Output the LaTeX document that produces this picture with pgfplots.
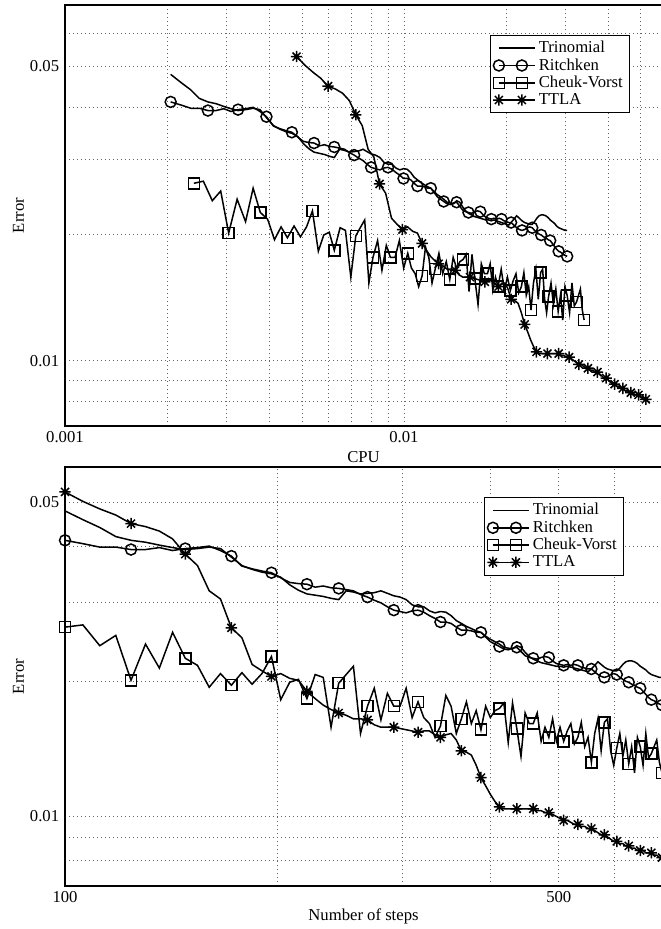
\documentclass[border=0pt]{standalone}
\usepackage{fontspec}
\setmainfont{Liberation Serif}
\usepackage{pgfplots}
\usepackage{pgfplotstable}
\pgfplotsset{compat=1.18}

\pgfdeclareplotmark{starx}{%
  \pgfpathmoveto{\pgfqpoint{-\pgfplotmarksize}{0pt}}\pgfpathlineto{\pgfqpoint{\pgfplotmarksize}{0pt}}%
  \pgfpathmoveto{\pgfqpoint{0pt}{-\pgfplotmarksize}}\pgfpathlineto{\pgfqpoint{0pt}{\pgfplotmarksize}}%
  \pgfpathmoveto{\pgfqpoint{-0.7071\pgfplotmarksize}{-0.7071\pgfplotmarksize}}\pgfpathlineto{\pgfqpoint{0.7071\pgfplotmarksize}{0.7071\pgfplotmarksize}}%
  \pgfpathmoveto{\pgfqpoint{-0.7071\pgfplotmarksize}{0.7071\pgfplotmarksize}}\pgfpathlineto{\pgfqpoint{0.7071\pgfplotmarksize}{-0.7071\pgfplotmarksize}}%
  \pgfusepathqstroke}

% n = number of steps; T,R,C,A = errors (Trinomial, Ritchken, Cheuk-Vorst, TTLA)
% cR = CPU of Trinomial/Ritchken, cC = CPU of Cheuk-Vorst, cA = CPU of TTLA
\pgfplotstableread{
n T R C A cR cC cA
100 0.0479 0.0412 0.0264 0.0528 0.00205 0.0024 0.00482
106 0.0458 0.0405 0.0267 0.0503 0.00220 0.00256 0.00511
112 0.0440 0.0398 0.0240 0.0484 0.00235 0.00272 0.00540
118 0.0420 0.0398 0.0253 0.0469 0.00249 0.00288 0.00568
124 0.0412 0.0393 0.0201 0.0449 0.00264 0.00304 0.00597
130 0.0408 0.0393 0.0242 0.0442 0.00279 0.00322 0.00628
136 0.0402 0.0397 0.0214 0.0432 0.00294 0.00341 0.00659
142 0.0397 0.0391 0.0257 0.0415 0.00309 0.00359 0.00690
148 0.0393 0.0395 0.0225 0.0384 0.00324 0.00377 0.00721
154 0.0395 0.0397 0.0217 0.0362 0.00341 0.00396 0.00753
160 0.0398 0.0400 0.0194 0.0318 0.00359 0.00415 0.00784
166 0.0395 0.0391 0.0208 0.0305 0.00376 0.00434 0.00815
172 0.0378 0.0380 0.0196 0.0263 0.00393 0.00453 0.00847
178 0.0362 0.0361 0.0209 0.0250 0.00412 0.00474 0.00883
184 0.0355 0.0356 0.0197 0.0218 0.00430 0.00495 0.00919
190 0.0350 0.0352 0.0208 0.0211 0.00449 0.00516 0.00954
196 0.0347 0.0349 0.0227 0.0205 0.00467 0.00537 0.0099
202 0.0341 0.0340 0.0182 0.0208 0.00486 0.00559 0.01025
208 0.0328 0.0332 0.0199 0.0203 0.00505 0.00580 0.01061
214 0.0319 0.0330 0.0202 0.0201 0.00524 0.00602 0.01096
220 0.0313 0.0329 0.0183 0.0190 0.00543 0.00623 0.01131
226 0.0311 0.0324 0.0207 0.0183 0.00563 0.00648 0.01165
232 0.0309 0.0326 0.0204 0.0177 0.00583 0.00672 0.01198
238 0.0306 0.0323 0.0158 0.0173 0.00603 0.00697 0.01232
244 0.0304 0.0322 0.0198 0.0170 0.00623 0.00721 0.01265
250 0.0318 0.0320 0.0207 0.0168 0.00646 0.00743 0.01303
256 0.0316 0.0318 0.0216 0.0165 0.00668 0.00766 0.01341
262 0.0313 0.0312 0.0153 0.0165 0.00691 0.00788 0.01379
268 0.0314 0.0308 0.0176 0.0164 0.00713 0.00810 0.01417
274 0.0315 0.0303 0.0193 0.0160 0.00735 0.00836 0.01454
280 0.0318 0.0299 0.0164 0.0158 0.00757 0.00861 0.01492
286 0.0314 0.0293 0.0188 0.0158 0.00778 0.00887 0.01529
292 0.0310 0.0288 0.0176 0.0158 0.00800 0.00912 0.01566
298 0.0308 0.0286 0.0176 0.0157 0.00824 0.00941 0.01608
304 0.0304 0.0284 0.0193 0.0156 0.00849 0.00969 0.01649
310 0.0296 0.0287 0.0166 0.0155 0.00873 0.00998 0.01691
316 0.0293 0.0288 0.0180 0.0154 0.00897 0.01026 0.01732
322 0.0293 0.0285 0.0166 0.0155 0.00922 0.01052 0.01774
328 0.0287 0.0280 0.0161 0.0155 0.00947 0.01079 0.01816
334 0.0284 0.0276 0.0150 0.0152 0.00972 0.01105 0.01858
340 0.0286 0.0271 0.0159 0.0150 0.00997 0.01131 0.0190
346 0.0285 0.0271 0.0186 0.0152 0.01022 0.01157 0.01943
352 0.0280 0.0269 0.0176 0.0153 0.01047 0.01184 0.01985
358 0.0273 0.0264 0.0153 0.0148 0.01071 0.01210 0.02028
364 0.0269 0.0260 0.0165 0.0140 0.01096 0.01236 0.0207
370 0.0265 0.0260 0.0180 0.0139 0.01122 0.01268 0.0212
376 0.0262 0.0259 0.0161 0.0137 0.01148 0.01301 0.0217
382 0.0259 0.0257 0.0172 0.0130 0.01174 0.01333 0.0222
388 0.0257 0.0257 0.0156 0.0122 0.0120 0.01365 0.0227
394 0.0252 0.0251 0.0176 0.0117 0.01228 0.01397 0.02318
400 0.0248 0.0245 0.0166 0.0112 0.01255 0.01430 0.02365
406 0.0245 0.0242 0.0172 0.0108 0.01283 0.01462 0.02413
412 0.0242 0.0239 0.0174 0.0105 0.0131 0.01494 0.0246
418 0.0238 0.0236 0.0179 0.0104 0.0134 0.01525 0.02508
424 0.0237 0.0235 0.0146 0.0104 0.0137 0.01556 0.02555
430 0.0236 0.0237 0.0179 0.0104 0.0140 0.01587 0.02603
436 0.0240 0.0238 0.0157 0.0104 0.0143 0.01618 0.0265
442 0.0238 0.0233 0.0136 0.0104 0.0146 0.01654 0.02703
448 0.0232 0.0228 0.0170 0.0104 0.0149 0.01691 0.02755
454 0.0227 0.0226 0.0161 0.0104 0.0152 0.01727 0.02808
460 0.0224 0.0225 0.0161 0.0104 0.0155 0.01763 0.0286
466 0.0222 0.0224 0.0170 0.0103 0.01583 0.01796 0.02913
472 0.0220 0.0226 0.0147 0.0103 0.01615 0.01829 0.02965
478 0.0219 0.0227 0.0158 0.0102 0.01648 0.01862 0.03018
484 0.0218 0.0226 0.0150 0.0102 0.0168 0.01895 0.0307
490 0.0217 0.0222 0.0165 0.0101 0.01713 0.01936 0.03123
496 0.0216 0.0219 0.0147 0.0100 0.01745 0.01978 0.03175
502 0.0216 0.0218 0.0158 0.0099 0.01778 0.02019 0.03228
508 0.0215 0.0217 0.0147 0.0098 0.0181 0.0206 0.0328
514 0.0216 0.0218 0.0155 0.0098 0.01843 0.0210 0.03333
520 0.0215 0.0217 0.0161 0.0097 0.01875 0.0214 0.03385
526 0.0214 0.0218 0.0145 0.0096 0.01908 0.0218 0.03438
532 0.0213 0.0217 0.0150 0.0096 0.0194 0.0222 0.0349
538 0.0212 0.0215 0.0162 0.0095 0.01973 0.02258 0.03548
544 0.0211 0.0214 0.0143 0.0095 0.02005 0.02295 0.03605
550 0.0210 0.0213 0.0150 0.0094 0.02038 0.02333 0.03663
556 0.0213 0.0213 0.0132 0.0094 0.0207 0.0237 0.0372
562 0.0217 0.0210 0.0153 0.0093 0.0211 0.0241 0.03778
568 0.0221 0.0207 0.0165 0.0092 0.0215 0.0245 0.03835
574 0.0218 0.0205 0.0140 0.0091 0.0219 0.0249 0.03893
580 0.0215 0.0204 0.0162 0.0091 0.0223 0.0253 0.0395
586 0.0213 0.0205 0.0165 0.0090 0.0227 0.02565 0.04008
592 0.0212 0.0207 0.0140 0.0089 0.0231 0.0260 0.04065
598 0.0211 0.0208 0.0130 0.0088 0.0235 0.02635 0.04123
604 0.0211 0.0207 0.0142 0.0088 0.0239 0.0267 0.0418
610 0.0214 0.0204 0.0153 0.0087 0.02428 0.02715 0.0424
616 0.0218 0.0202 0.0136 0.0087 0.02465 0.0276 0.0430
622 0.0221 0.0200 0.0148 0.0086 0.02503 0.02805 0.0436
628 0.0222 0.0199 0.0131 0.0086 0.0254 0.0285 0.0442
634 0.0222 0.0197 0.0143 0.0085 0.0258 0.02895 0.04483
640 0.0221 0.0196 0.0125 0.0085 0.0262 0.0294 0.04545
646 0.0219 0.0194 0.0150 0.0084 0.0266 0.02985 0.04608
652 0.0216 0.0193 0.0143 0.0084 0.0270 0.0303 0.0467
658 0.0214 0.0190 0.0130 0.0084 0.0274 0.0308 0.04733
664 0.0212 0.0187 0.0153 0.0083 0.0278 0.0313 0.04795
670 0.0209 0.0184 0.0135 0.0083 0.0282 0.0318 0.04858
676 0.0207 0.0182 0.0138 0.0083 0.0286 0.0323 0.0492
682 0.0206 0.0181 0.0143 0.0082 0.02903 0.03273 0.04983
688 0.0205 0.0179 0.0148 0.0082 0.02945 0.03315 0.05045
694 0.0204 0.0178 0.0132 0.0081 0.02988 0.03358 0.05108
700 0.0204 0.0177 0.0125 0.0081 0.0303 0.0340 0.0517
}\data

\tikzset{
  tri/.style={black, line width=0.9pt},
  rit/.style={black, line width=0.9pt, mark=o, mark size=3.3pt, mark repeat=4, mark options={solid}},
  cv/.style={black, line width=0.9pt, mark=square, mark size=3.3pt, mark repeat=4, mark options={solid}},
  ttla/.style={black, line width=0.9pt, mark=starx, mark size=3.4pt, mark repeat=4, mark options={solid}},
}

\pgfplotsset{
  every axis/.append style={
    scale only axis, clip=false,
    axis line style={line width=1pt},
    grid=both,
    major grid style={dotted, line width=0.5pt, black!60},
    minor grid style={dotted, line width=0.5pt, black!60},
    major tick length=0pt, minor tick length=0pt,
    legend cell align=left,
    legend style={anchor=north east, draw=black, fill=white, inner xsep=2pt, inner ysep=1.5pt, row sep=-2pt},
  },
  every axis y label/.style={at={(axis description cs:-0.078,0.5)}, rotate=90, anchor=center},
  every axis x label/.style={at={(axis description cs:0.5,0)}, anchor=center, yshift=-18.5pt},
}

\begin{document}
\begin{tikzpicture}
\begin{loglogaxis}[at={(39pt,301.8pt)}, anchor=south west,
  width=358.2pt, height=252.6pt,
  xmin=0.001, xmax=0.0577, ymin=0.007, ymax=0.07,
  xtick={0.001,0.01}, xticklabels={0.001,0.01},
  minor xtick={0.002,0.003,0.004,0.005,0.006,0.007,0.008,0.009,0.02,0.03,0.04,0.05},
  ytick={0.01,0.05}, yticklabels={0.01,0.05},
  minor ytick={0.008,0.009,0.02,0.03,0.04,0.06},
  xlabel={CPU}, ylabel={Error},
  legend image code/.code={\draw[#1, mark repeat=1, mark phase=1] plot coordinates {(0pt,0pt) (13.8pt,0pt)}; \path (0pt,0pt) -- (21.5pt,0pt);},
  legend style={at={(0.946,0.929)}}]
\addplot[tri] table[x=cR, y=T] {\data};
\addlegendentry{Trinomial}
\addplot[rit] table[x=cR, y=R] {\data};
\addlegendentry{Ritchken}
\addplot[cv] table[x=cC, y=C] {\data};
\addlegendentry{Cheuk-Vorst}
\addplot[ttla] table[x=cA, y=A] {\data};
\addlegendentry{TTLA}
\end{loglogaxis}
\begin{loglogaxis}[at={(39pt,25.8pt)}, anchor=south west,
  width=358.2pt, height=251.4pt,
  xmin=100, xmax=700, ymin=0.007, ymax=0.06,
  xtick={100,500}, xticklabels={100,500},
  minor xtick={200,300,400,600},
  ytick={0.01,0.05}, yticklabels={0.01,0.05},
  minor ytick={0.008,0.009,0.02,0.03,0.04},
  xlabel={Number of steps}, ylabel={Error},
  legend image code/.code={\draw[#1, mark repeat=1, mark phase=1] plot coordinates {(0pt,0pt) (13.8pt,0pt)}; \path (0pt,0pt) -- (21.5pt,0pt);},
  legend style={at={(0.936,0.928)}}]
\addplot[tri] table[x=n, y=T] {\data};
\addlegendentry{Trinomial}
\addplot[rit] table[x=n, y=R] {\data};
\addlegendentry{Ritchken}
\addplot[cv] table[x=n, y=C] {\data};
\addlegendentry{Cheuk-Vorst}
\addplot[ttla] table[x=n, y=A] {\data};
\addlegendentry{TTLA}
\end{loglogaxis}
\pgfresetboundingbox
\path (0pt,0pt) rectangle (396.6pt,557.4pt);
\end{tikzpicture}
\end{document}
